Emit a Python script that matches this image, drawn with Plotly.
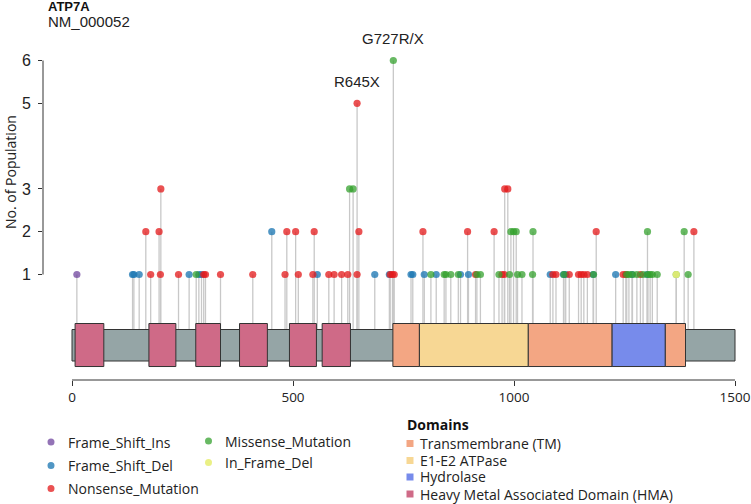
import plotly.graph_objects as go

# ---------------- data ----------------
gene = "ATP7A"
transcript = "NM_000052"
protein_length = 1500

x_ticks = [0, 500, 1000, 1500]
y_ticks = [1, 2, 3, 5, 6]

frame_shift_ins_pos = [11]
frame_shift_ins_cnt = [1]

frame_shift_del_pos = [137, 140, 152, 265, 287, 293, 452, 555, 685, 718, 767, 771,
                       797, 824, 879, 897, 1082, 1112, 1117, 1179, 1230, 1267, 1301]
frame_shift_del_cnt = [1, 1, 1, 1, 1, 1, 2, 1, 1, 1, 1, 1,
                       1, 1, 1, 1, 1, 1, 1, 1, 1, 1, 1]

nonsense_pos = [167, 178, 197, 200, 201, 241, 298, 302, 336, 409, 482, 486, 506, 512,
                545, 548, 581, 593, 610, 624, 645, 645, 649, 720, 725, 729, 794, 895,
                913, 955, 973, 978, 979, 986, 1088, 1095, 1125, 1146, 1152, 1158, 1166,
                1186, 1247, 1253, 1286, 1407]
nonsense_cnt = [2, 1, 2, 1, 3, 1, 1, 1, 1, 1, 1, 2, 2, 1,
                1, 2, 1, 1, 1, 1, 1, 5, 2, 1, 1, 1, 2, 2,
                1, 2, 1, 1, 3, 3, 1, 1, 1, 1, 1, 1, 1,
                2, 1, 1, 1, 2]

missense_pos = [281, 628, 636, 727, 812, 842, 846, 857, 874, 916, 924, 966, 990, 993,
                999, 1005, 1008, 1018, 1042, 1043, 1113, 1180, 1255, 1260, 1268, 1278,
                1292, 1302, 1303, 1308, 1313, 1324, 1367, 1385, 1394]
missense_cnt = [1, 3, 3, 6, 1, 1, 1, 1, 1, 1, 1, 1, 1, 2,
                2, 2, 1, 1, 1, 2, 1, 1, 1, 1, 1, 1,
                1, 2, 1, 1, 1, 1, 1, 2, 1]

in_frame_del_pos = [1367]
in_frame_del_cnt = [1]

label_pos = [727, 645]
label_cnt = [6, 5]
label_txt = ["G727R/X", "R645X"]

domain_names = ["Transmembrane (TM)", "E1-E2 ATPase", "Hydrolase",
                "Heavy Metal Associated Domain (HMA)"]
domain_colors = ["#f3a683", "#f7d794", "#778beb", "#cf6a87"]
domain_starts = [[726, 1032, 1342], [786], [1222], [7, 174, 280, 379, 492, 566]]
domain_ends = [[786, 1222, 1388], [1032], [1342], [72, 235, 336, 442, 553, 630]]

mut_names = ["Frame_Shift_Ins", "Frame_Shift_Del", "Nonsense_Mutation",
             "Missense_Mutation", "In_Frame_Del"]
mut_colors = ["rgba(106,61,154,0.72)", "rgba(31,120,180,0.78)", "rgba(227,26,28,0.76)",
              "rgba(51,160,44,0.74)", "rgba(232,238,120,0.9)"]
mut_pos = [frame_shift_ins_pos, frame_shift_del_pos, nonsense_pos, missense_pos, in_frame_del_pos]
mut_cnt = [frame_shift_ins_cnt, frame_shift_del_cnt, nonsense_cnt, missense_cnt, in_frame_del_cnt]

# ---------------- layout geometry ----------------
W, H = 751, 504
ML, MR, MT, MB = 43, 11, 40, 124
PW, PH = W - ML - MR, H - MT - MB

Y1_PX, PX_PER_UNIT = 274.5, 42.8
y_top = 1 + (Y1_PX - MT) / PX_PER_UNIT
y_bot = 1 - (H - MB - Y1_PX) / PX_PER_UNIT
X0_PX, X_SCALE = 72, 663 / 1500
x_left = -(X0_PX - ML) / X_SCALE
x_right = x_left + PW / X_SCALE

bb_top, bb_bot = -0.285, -1.021
dm_top, dm_bot = -0.145, -1.15


def px(xp):
    return (xp - ML) / PW


def py(yp):
    return (H - MB - yp) / PH


fig = go.Figure()

# stems
sx, sy = [], []
for pos, cnt in zip(mut_pos, mut_cnt):
    for p, c in zip(pos, cnt):
        sx += [p, p, None]
        sy += [bb_top, c, None]
fig.add_trace(go.Scatter(x=sx, y=sy, mode="lines",
                         line=dict(color="#c8c8c8", width=1.3), hoverinfo="skip"))

# points
for name, col, pos, cnt in zip(mut_names, mut_colors, mut_pos, mut_cnt):
    fig.add_trace(go.Scatter(x=pos, y=cnt, mode="markers", name=name,
                             marker=dict(color=col, size=7.2, line=dict(width=0))))

shapes = []
# backbone
shapes.append(dict(type="rect", xref="x", yref="y", x0=0, x1=protein_length,
                   y0=bb_bot, y1=bb_top, fillcolor="#95a5a6",
                   line=dict(color="#333333", width=1), layer="above"))
for col, starts, ends in zip(domain_colors, domain_starts, domain_ends):
    for s, e in zip(starts, ends):
        shapes.append(dict(type="rect", xref="x", yref="y", x0=s, x1=e,
                           y0=dm_bot, y1=dm_top, fillcolor=col,
                           line=dict(color="#333333", width=1), layer="above"))
# axis lines (R style)
shapes.append(dict(type="line", xref="x", yref="paper", x0=x_ticks[0], x1=x_ticks[-1],
                   y0=0, y1=0, line=dict(color="#333333", width=1)))
shapes.append(dict(type="line", xref="paper", yref="y", x0=0, x1=0,
                   y0=y_ticks[0], y1=y_ticks[-1], line=dict(color="#333333", width=1)))

annotations = []
for p, c, t in zip(label_pos, label_cnt, label_txt):
    annotations.append(dict(x=p, y=c, xref="x", yref="y", text=t, showarrow=False,
                            yshift=22, font=dict(family="Liberation Sans", size=15, color="#222")))

annotations.append(dict(x=px(46), y=py(7), xref="paper", yref="paper", text="<b>%s</b>" % gene,
                        showarrow=False, xanchor="left", yanchor="middle",
                        font=dict(family="Liberation Sans", size=13, color="#111")))
annotations.append(dict(x=px(46), y=py(21.5), xref="paper", yref="paper", text=transcript,
                        showarrow=False, xanchor="left", yanchor="middle",
                        font=dict(family="Liberation Sans", size=15, color="#222")))
annotations.append(dict(x=px(11), y=py(172), xref="paper", yref="paper",
                        text="No. of Population", textangle=-90, showarrow=False,
                        xanchor="center", yanchor="middle",
                        font=dict(family="Open Sans", size=14, color="#222")))

# mutation legend
leg_font = dict(family="Open Sans", size=14, color="#222")
mut_leg_xy = [(51, 442), (51, 465.5), (51, 488.5), (208.5, 441), (208.5, 462.5)]
r = 3.5
for (lx, ly), name, col in zip(mut_leg_xy, mut_names, mut_colors):
    shapes.append(dict(type="circle", xref="paper", yref="paper",
                       x0=px(lx - r), x1=px(lx + r), y0=py(ly + r), y1=py(ly - r),
                       fillcolor=col, line=dict(width=0)))
    annotations.append(dict(x=px(lx + 14.5), y=py(ly), xref="paper", yref="paper", text=name,
                            showarrow=False, xanchor="left", yanchor="middle", font=leg_font))

# domain legend
annotations.append(dict(x=px(405), y=py(424), xref="paper", yref="paper", text="<b>Domains</b>",
                        showarrow=False, xanchor="left", yanchor="middle",
                        font=dict(family="Open Sans", size=14, color="#111")))
dom_leg_y = [443.5, 460.5, 477, 494]
for ly, name, col in zip(dom_leg_y, domain_names, domain_colors):
    shapes.append(dict(type="rect", xref="paper", yref="paper",
                       x0=px(406.5), x1=px(413.5), y0=py(ly + 3.5), y1=py(ly - 3.5),
                       fillcolor=col, line=dict(width=0)))
    annotations.append(dict(x=px(418), y=py(ly), xref="paper", yref="paper", text=name,
                            showarrow=False, xanchor="left", yanchor="middle", font=leg_font))

fig.update_layout(
    width=W, height=H, margin=dict(l=ML, r=MR, t=MT, b=MB),
    plot_bgcolor="white", paper_bgcolor="white", showlegend=False,
    shapes=shapes, annotations=annotations,
    xaxis=dict(range=[x_left, x_right], tickvals=x_ticks, ticks="outside", ticklen=5,
               tickcolor="#333", showgrid=False, zeroline=False, showline=False,
               automargin=False,
               tickfont=dict(family="Open Sans", size=13.5, color="#222")),
    yaxis=dict(range=[y_bot, y_top], tickvals=y_ticks, ticks="outside", ticklen=4,
               tickcolor="#333", showgrid=False, zeroline=False, showline=False,
               automargin=False, ticklabelstandoff=4,
               tickfont=dict(family="Liberation Sans", size=16, color="#222")),
)

fig.write_html("out.html", config={"displayModeBar": False},
               post_script="document.body.style.margin='0';")
